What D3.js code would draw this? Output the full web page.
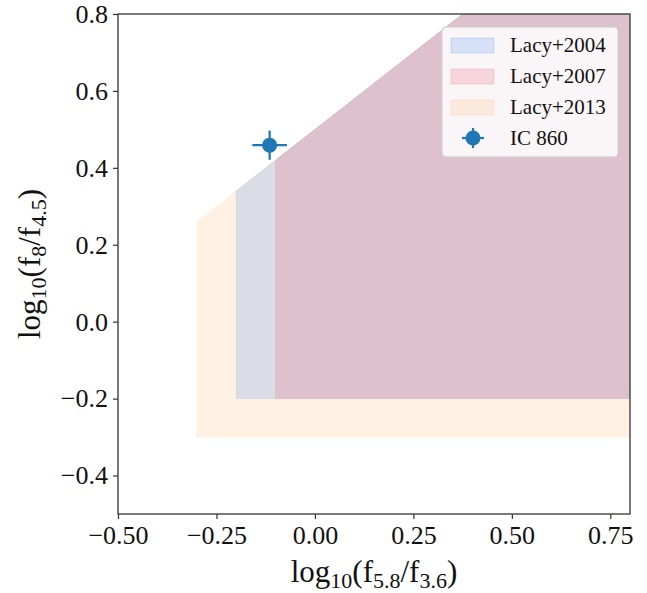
<!DOCTYPE html>
<html><head><meta charset="utf-8">
<script src="https://cdn.jsdelivr.net/npm/d3@7"></script>
<style>body{margin:0;background:#fff}svg{display:block}</style>
</head><body>
<svg id="c" width="647" height="593"></svg>
<script>
// Region vertices [x, y] (log10 f5.8/f3.6, log10 f8/f4.5), clipped by axes
const lacy2013 = [[-0.3,-0.3],[1.0,-0.3],[1.0,1.3],[-0.3,0.26]];
const lacy2004 = [[-0.2,-0.2],[1.0,-0.2],[1.0,1.3],[-0.2,0.34]];
const lacy2007 = [[-0.1,-0.2],[1.0,-0.2],[1.0,1.3],[-0.1,0.42]];
const sourceName = ["IC 860"];
const sourceX = [-0.115];
const sourceY = [0.459];
const sourceXerr = [0.044];
const sourceYerr = [0.038];
const xTicks = [-0.50,-0.25,0.00,0.25,0.50,0.75];
const yTicks = [-0.4,-0.2,0.0,0.2,0.4,0.6,0.8];
const legendLabels = ["Lacy+2004","Lacy+2007","Lacy+2013","IC 860"];

const L=118,R=630,T=14,B=514;
const svg=d3.select("#c");
const x=d3.scaleLinear().domain([-0.5,0.8]).range([L,R]);
const y=d3.scaleLinear().domain([-0.5,0.8]).range([B,T]);
const font="'Liberation Serif','DejaVu Serif',serif";

svg.append("clipPath").attr("id","clip").append("rect")
  .attr("x",L).attr("y",T).attr("width",R-L).attr("height",B-T);
const g=svg.append("g").attr("clip-path","url(#clip)");
const line=d3.line().x(d=>x(d[0])).y(d=>y(d[1]));
const regions=[
  {d:lacy2013,c:"#ff8c1a",a:0.12},
  {d:lacy2004,c:"#1e78f0",a:0.165},
  {d:lacy2007,c:"#e6647d",a:0.22}
];
regions.forEach(r=>{
  g.append("path").attr("d",line(r.d)+"Z").attr("fill",r.c).attr("fill-opacity",r.a)
   .attr("stroke",r.c).attr("stroke-opacity",r.a*0.6).attr("stroke-width",1);
});

// error bars + point
const pc="#1f77b4";
sourceX.forEach((sx,i)=>{
  g.append("line").attr("x1",x(sx-sourceXerr[i])).attr("x2",x(sx+sourceXerr[i]))
   .attr("y1",y(sourceY[i])).attr("y2",y(sourceY[i])).attr("stroke",pc).attr("stroke-width",2.2);
  g.append("line").attr("x1",x(sx)).attr("x2",x(sx))
   .attr("y1",y(sourceY[i]-sourceYerr[i])).attr("y2",y(sourceY[i]+sourceYerr[i])).attr("stroke",pc).attr("stroke-width",2.2);
  g.append("circle").attr("cx",x(sx)).attr("cy",y(sourceY[i])).attr("r",7.5).attr("fill",pc);
});

// axes
const xa=svg.append("g").attr("transform",`translate(0,${B})`)
  .call(d3.axisBottom(x).tickValues(xTicks).tickSize(5).tickPadding(7).tickFormat(d=>d3.format(".2f")(d).replace("-","\u2212")));
const ya=svg.append("g").attr("transform",`translate(${L},0)`)
  .call(d3.axisLeft(y).tickValues(yTicks).tickSize(5).tickPadding(5).tickFormat(d=>d3.format(".1f")(d).replace("-","\u2212")));
[xa,ya].forEach(a=>{
  a.select(".domain").remove();
  a.selectAll("line").attr("stroke","#333").attr("stroke-width",1.2);
  a.selectAll("text").attr("font-family",font).attr("font-size",26).attr("fill","#111");
});
svg.append("rect").attr("x",L).attr("y",T).attr("width",R-L).attr("height",B-T)
  .attr("fill","none").attr("stroke","#333").attr("stroke-width",1.3);

// axis labels
const xl=svg.append("text").attr("x",(L+R)/2).attr("y",582).attr("text-anchor","middle")
  .attr("font-family",font).attr("font-size",31).attr("fill","#111");
xl.append("tspan").text("log");
xl.append("tspan").text("10").attr("font-size",22).attr("dy",6);
xl.append("tspan").text("(f").attr("dy",-6);
xl.append("tspan").text("5.8").attr("font-size",22).attr("dy",6);
xl.append("tspan").text("/f").attr("dy",-6);
xl.append("tspan").text("3.6").attr("font-size",22).attr("dy",6);
xl.append("tspan").text(")").attr("dy",-6);

const yl=svg.append("text").attr("transform",`translate(40,${(T+B)/2}) rotate(-90)`).attr("text-anchor","middle")
  .attr("font-family",font).attr("font-size",31).attr("fill","#111");
yl.append("tspan").text("log");
yl.append("tspan").text("10").attr("font-size",22).attr("dy",6);
yl.append("tspan").text("(f").attr("dy",-6);
yl.append("tspan").text("8").attr("font-size",22).attr("dy",6);
yl.append("tspan").text("/f").attr("dy",-6);
yl.append("tspan").text("4.5").attr("font-size",22).attr("dy",6);
yl.append("tspan").text(")").attr("dy",-6);

// legend
const lg=svg.append("g");
lg.append("rect").attr("x",442).attr("y",27).attr("width",176).attr("height",130).attr("rx",4)
  .attr("fill","#fff").attr("fill-opacity",0.85).attr("stroke","#ccc").attr("stroke-width",1);
legendLabels.forEach((t,i)=>{
  const cy=45+i*31;
  if(i<3){
    const r=regions[[1,2,0][i]];
    lg.append("rect").attr("x",451).attr("y",cy-7).attr("width",43).attr("height",15)
      .attr("fill",r.c).attr("fill-opacity",r.a).attr("stroke",r.c).attr("stroke-opacity",r.a);
  } else {
    lg.append("line").attr("x1",462).attr("x2",484).attr("y1",cy).attr("y2",cy).attr("stroke",pc).attr("stroke-width",2.2);
    lg.append("line").attr("x1",473).attr("x2",473).attr("y1",cy-10).attr("y2",cy+10).attr("stroke",pc).attr("stroke-width",2.2);
    lg.append("circle").attr("cx",473).attr("cy",cy).attr("r",7.5).attr("fill",pc);
  }
  lg.append("text").attr("x",510).attr("y",cy+7).text(t).attr("font-family",font).attr("font-size",21).attr("fill","#111");
});
</script>
</body></html>
